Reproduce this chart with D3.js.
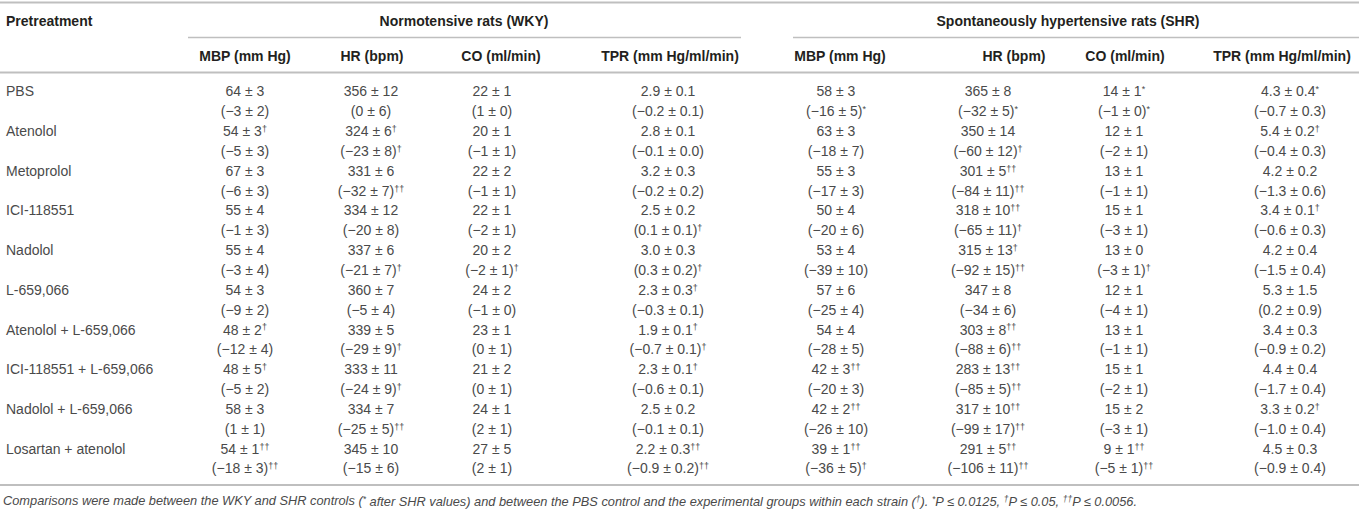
<!DOCTYPE html>
<html>
<head>
<meta charset="utf-8">
<script src="https://cdn.jsdelivr.net/npm/d3@7"></script>
<style>
  body { margin: 0; background: #fff; }
  svg text { font-family: "Liberation Sans", Arial, sans-serif; }
</style>
</head>
<body>
<div id="chart-area"></div>
<script>
// rows of the table, "^" separates the value from its superscript mark
const pretreatments = ["PBS", "Atenolol", "Metoprolol", "ICI-118551", "Nadolol", "L-659,066",
  "Atenolol + L-659,066", "ICI-118551 + L-659,066", "Nadolol + L-659,066", "Losartan + atenolol"];

const groups = ["Normotensive rats (WKY)", "Spontaneously hypertensive rats (SHR)"];
const measures = ["MBP (mm Hg)", "HR (bpm)", "CO (ml/min)", "TPR (mm Hg/ml/min)"];

const wkyMBP = [["64 ± 3", "(−3 ± 2)"], ["54 ± 3^†", "(−5 ± 3)"], ["67 ± 3", "(−6 ± 3)"], ["55 ± 4", "(−1 ± 3)"],
  ["55 ± 4", "(−3 ± 4)"], ["54 ± 3", "(−9 ± 2)"], ["48 ± 2^†", "(−12 ± 4)"], ["48 ± 5^†", "(−5 ± 2)"],
  ["58 ± 3", "(1 ± 1)"], ["54 ± 1^††", "(−18 ± 3)^††"]];
const wkyHR = [["356 ± 12", "(0 ± 6)"], ["324 ± 6^†", "(−23 ± 8)^†"], ["331 ± 6", "(−32 ± 7)^††"], ["334 ± 12", "(−20 ± 8)"],
  ["337 ± 6", "(−21 ± 7)^†"], ["360 ± 7", "(−5 ± 4)"], ["339 ± 5", "(−29 ± 9)^†"], ["333 ± 11", "(−24 ± 9)^†"],
  ["334 ± 7", "(−25 ± 5)^††"], ["345 ± 10", "(−15 ± 6)"]];
const wkyCO = [["22 ± 1", "(1 ± 0)"], ["20 ± 1", "(−1 ± 1)"], ["22 ± 2", "(−1 ± 1)"], ["22 ± 1", "(−2 ± 1)"],
  ["20 ± 2", "(−2 ± 1)^†"], ["24 ± 2", "(−1 ± 0)"], ["23 ± 1", "(0 ± 1)"], ["21 ± 2", "(0 ± 1)"],
  ["24 ± 1", "(2 ± 1)"], ["27 ± 5", "(2 ± 1)"]];
const wkyTPR = [["2.9 ± 0.1", "(−0.2 ± 0.1)"], ["2.8 ± 0.1", "(−0.1 ± 0.0)"], ["3.2 ± 0.3", "(−0.2 ± 0.2)"], ["2.5 ± 0.2", "(0.1 ± 0.1)^†"],
  ["3.0 ± 0.3", "(0.3 ± 0.2)^†"], ["2.3 ± 0.3^†", "(−0.3 ± 0.1)"], ["1.9 ± 0.1^†", "(−0.7 ± 0.1)^†"], ["2.3 ± 0.1^†", "(−0.6 ± 0.1)"],
  ["2.5 ± 0.2", "(−0.1 ± 0.1)"], ["2.2 ± 0.3^††", "(−0.9 ± 0.2)^††"]];

const shrMBP = [["58 ± 3", "(−16 ± 5)^*"], ["63 ± 3", "(−18 ± 7)"], ["55 ± 3", "(−17 ± 3)"], ["50 ± 4", "(−20 ± 6)"],
  ["53 ± 4", "(−39 ± 10)"], ["57 ± 6", "(−25 ± 4)"], ["54 ± 4", "(−28 ± 5)"], ["42 ± 3^††", "(−20 ± 3)"],
  ["42 ± 2^††", "(−26 ± 10)"], ["39 ± 1^††", "(−36 ± 5)^†"]];
const shrHR = [["365 ± 8", "(−32 ± 5)^*"], ["350 ± 14", "(−60 ± 12)^†"], ["301 ± 5^††", "(−84 ± 11)^††"], ["318 ± 10^††", "(−65 ± 11)^†"],
  ["315 ± 13^†", "(−92 ± 15)^††"], ["347 ± 8", "(−34 ± 6)"], ["303 ± 8^††", "(−88 ± 6)^††"], ["283 ± 13^††", "(−85 ± 5)^††"],
  ["317 ± 10^††", "(−99 ± 17)^††"], ["291 ± 5^††", "(−106 ± 11)^††"]];
const shrCO = [["14 ± 1^*", "(−1 ± 0)^*"], ["12 ± 1", "(−2 ± 1)"], ["13 ± 1", "(−1 ± 1)"], ["15 ± 1", "(−3 ± 1)"],
  ["13 ± 0", "(−3 ± 1)^†"], ["12 ± 1", "(−4 ± 1)"], ["13 ± 1", "(−1 ± 1)"], ["15 ± 1", "(−2 ± 1)"],
  ["15 ± 2", "(−3 ± 1)"], ["9 ± 1^††", "(−5 ± 1)^††"]];
const shrTPR = [["4.3 ± 0.4^*", "(−0.7 ± 0.3)"], ["5.4 ± 0.2^†", "(−0.4 ± 0.3)"], ["4.2 ± 0.2", "(−1.3 ± 0.6)"], ["3.4 ± 0.1^†", "(−0.6 ± 0.3)"],
  ["4.2 ± 0.4", "(−1.5 ± 0.4)"], ["5.3 ± 1.5", "(0.2 ± 0.9)"], ["3.4 ± 0.3", "(−0.9 ± 0.2)"], ["4.4 ± 0.4", "(−1.7 ± 0.4)"],
  ["3.3 ± 0.2^†", "(−1.0 ± 0.4)"], ["4.5 ± 0.3", "(−0.9 ± 0.4)"]];

const footnote = ["Comparisons were made between the WKY and SHR controls (", "*", " after SHR values) and between the PBS control and the experimental groups within each strain (",
  "†", "). ", "*", "P ≤ 0.0125, ", "†", "P ≤ 0.05, ", "††", "P ≤ 0.0056."];

const columns = [wkyMBP, wkyHR, wkyCO, wkyTPR, shrMBP, shrHR, shrCO, shrTPR];

const W = 1359, H = 509;
const svg = d3.select("#chart-area").append("svg")
  .attr("width", W).attr("height", H);

svg.append("rect").attr("width", W).attr("height", H).attr("fill", "#fff");

// column centres (header and values are not always on the same centre)
const headX = d3.scaleOrdinal().domain(d3.range(8)).range([245, 372, 501, 670, 840, 1014, 1125, 1282]);
const valX = d3.scaleOrdinal().domain(d3.range(8)).range([245, 371, 492, 668, 836, 988, 1124, 1290]);
// 20 body lines, two per pretreatment
const y = d3.scaleLinear().domain([0, 19]).range([91.5, 468.5]);

const ruleColor = "#bfbfbf", ink = "#4a4a4a", headInk = "#231f20";

function rule(x1, x2, yy, w) {
  svg.append("line").attr("x1", x1).attr("x2", x2).attr("y1", yy).attr("y2", yy)
    .attr("stroke", ruleColor).attr("stroke-width", w || 1.5);
}
rule(0, W, 2.5, 2);
rule(188, 741, 37.5);
rule(793, W, 37.5);
rule(0, W, 72.5, 2);
rule(0, W, 485, 2);

// header
svg.append("text").attr("x", 6).attr("y", 21).attr("dy", "0.35em")
  .attr("font-size", 14).attr("font-weight", "bold").attr("fill", headInk).text("Pretreatment");

svg.selectAll("text.group").data(groups).enter().append("text")
  .attr("class", "group")
  .attr("x", (d, i) => i === 0 ? 464 : 1068)
  .attr("y", 21).attr("dy", "0.35em")
  .attr("text-anchor", "middle").attr("font-size", 14).attr("font-weight", "bold").attr("fill", headInk)
  .text(d => d);

svg.selectAll("text.measure").data(d3.range(8)).enter().append("text")
  .attr("class", "measure")
  .attr("x", i => headX(i))
  .attr("y", 56).attr("dy", "0.35em")
  .attr("text-anchor", "middle").attr("font-size", 14).attr("font-weight", "bold").attr("fill", headInk)
  .text(i => measures[i % 4]);

// row labels
svg.selectAll("text.label").data(pretreatments).enter().append("text")
  .attr("class", "label")
  .attr("x", 6).attr("y", (d, i) => y(i * 2)).attr("dy", "0.35em")
  .attr("font-size", 14).attr("fill", ink).text(d => d);

// cells
const cells = [];
columns.forEach((col, c) => col.forEach((pair, r) => pair.forEach((s, k) => {
  const parts = s.split("^");
  cells.push({ c: c, line: r * 2 + k, txt: parts[0], sup: parts[1] || "" });
})));

const cellText = svg.selectAll("text.cell").data(cells).enter().append("text")
  .attr("class", "cell")
  .attr("x", d => valX(d.c)).attr("y", d => y(d.line)).attr("dy", "0.35em")
  .attr("text-anchor", "middle").attr("font-size", 14).attr("fill", ink);
cellText.append("tspan").text(d => d.txt);
cellText.filter(d => d.sup).append("tspan")
  .attr("dy", "-0.45em").attr("font-size", 9).text(d => d.sup);

// footnote
const fn = svg.append("text").attr("x", 3).attr("y", 501).attr("dy", "0.35em")
  .attr("font-size", 12.8).attr("font-style", "italic").attr("fill", ink);
footnote.forEach((s, i) => {
  const sup = i % 2 === 1;
  fn.append("tspan").attr("font-size", sup ? 8.5 : 12.8)
    .attr("dy", sup ? "-0.4em" : (i > 0 ? "0.27em" : null))
    .text(s);
});
</script>
</body>
</html>
